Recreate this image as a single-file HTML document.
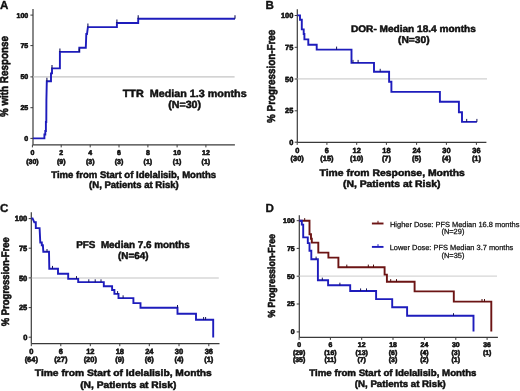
<!DOCTYPE html>
<html><head><meta charset="utf-8"><style>
html,body{margin:0;padding:0;background:#fff;width:520px;height:391px;overflow:hidden;}
body{position:relative;font-family:"Liberation Sans", sans-serif;}
</style></head><body>
<svg width="520" height="391" viewBox="0 0 520 391" style="position:absolute;left:0;top:0;will-change:transform;filter:blur(0.35px)">
<g text-rendering="geometricPrecision" font-family='"Liberation Sans", sans-serif'>
<text x="0.00" y="8.50" font-size="11.6" text-anchor="start" font-weight="bold" fill="#111" stroke="#111" stroke-width="0.35" stroke-linejoin="round" >A</text>
<line x1="33.00" y1="9.00" x2="33.00" y2="144.80" stroke="#3a3a3a" stroke-width="1.2"/>
<line x1="32.60" y1="144.80" x2="234.90" y2="144.80" stroke="#3a3a3a" stroke-width="1.2"/>
<line x1="33.00" y1="76.80" x2="234.60" y2="76.80" stroke="#c4c4c4" stroke-width="1.2"/>
<line x1="30.40" y1="15.10" x2="33.00" y2="15.10" stroke="#3a3a3a" stroke-width="1.0"/>
<text x="28.20" y="17.62" font-size="7.0" text-anchor="end" font-weight="bold" fill="#111" stroke="#111" stroke-width="0.6" stroke-linejoin="round" >100</text>
<line x1="30.40" y1="45.60" x2="33.00" y2="45.60" stroke="#3a3a3a" stroke-width="1.0"/>
<text x="28.20" y="48.12" font-size="7.0" text-anchor="end" font-weight="bold" fill="#111" stroke="#111" stroke-width="0.6" stroke-linejoin="round" >75</text>
<line x1="30.40" y1="76.90" x2="33.00" y2="76.90" stroke="#3a3a3a" stroke-width="1.0"/>
<text x="28.20" y="79.42" font-size="7.0" text-anchor="end" font-weight="bold" fill="#111" stroke="#111" stroke-width="0.6" stroke-linejoin="round" >50</text>
<line x1="30.40" y1="107.70" x2="33.00" y2="107.70" stroke="#3a3a3a" stroke-width="1.0"/>
<text x="28.20" y="110.22" font-size="7.0" text-anchor="end" font-weight="bold" fill="#111" stroke="#111" stroke-width="0.6" stroke-linejoin="round" >25</text>
<line x1="30.40" y1="138.40" x2="33.00" y2="138.40" stroke="#3a3a3a" stroke-width="1.0"/>
<text x="28.20" y="140.92" font-size="7.0" text-anchor="end" font-weight="bold" fill="#111" stroke="#111" stroke-width="0.6" stroke-linejoin="round" >0</text>
<line x1="32.40" y1="144.80" x2="32.40" y2="147.40" stroke="#3a3a3a" stroke-width="1.0"/>
<text x="32.40" y="155.30" font-size="7.0" text-anchor="middle" font-weight="bold" fill="#111" stroke="#111" stroke-width="0.6" stroke-linejoin="round" >0</text>
<text x="32.40" y="164.00" font-size="7.0" text-anchor="middle" font-weight="bold" fill="#111" stroke="#111" stroke-width="0.6" stroke-linejoin="round" >(30)</text>
<line x1="61.20" y1="144.80" x2="61.20" y2="147.40" stroke="#3a3a3a" stroke-width="1.0"/>
<text x="61.20" y="155.30" font-size="7.0" text-anchor="middle" font-weight="bold" fill="#111" stroke="#111" stroke-width="0.6" stroke-linejoin="round" >2</text>
<text x="61.20" y="164.00" font-size="7.0" text-anchor="middle" font-weight="bold" fill="#111" stroke="#111" stroke-width="0.6" stroke-linejoin="round" >(9)</text>
<line x1="90.20" y1="144.80" x2="90.20" y2="147.40" stroke="#3a3a3a" stroke-width="1.0"/>
<text x="90.20" y="155.30" font-size="7.0" text-anchor="middle" font-weight="bold" fill="#111" stroke="#111" stroke-width="0.6" stroke-linejoin="round" >4</text>
<text x="90.20" y="164.00" font-size="7.0" text-anchor="middle" font-weight="bold" fill="#111" stroke="#111" stroke-width="0.6" stroke-linejoin="round" >(3)</text>
<line x1="119.00" y1="144.80" x2="119.00" y2="147.40" stroke="#3a3a3a" stroke-width="1.0"/>
<text x="119.00" y="155.30" font-size="7.0" text-anchor="middle" font-weight="bold" fill="#111" stroke="#111" stroke-width="0.6" stroke-linejoin="round" >6</text>
<text x="119.00" y="164.00" font-size="7.0" text-anchor="middle" font-weight="bold" fill="#111" stroke="#111" stroke-width="0.6" stroke-linejoin="round" >(3)</text>
<line x1="147.90" y1="144.80" x2="147.90" y2="147.40" stroke="#3a3a3a" stroke-width="1.0"/>
<text x="147.90" y="155.30" font-size="7.0" text-anchor="middle" font-weight="bold" fill="#111" stroke="#111" stroke-width="0.6" stroke-linejoin="round" >8</text>
<text x="147.90" y="164.00" font-size="7.0" text-anchor="middle" font-weight="bold" fill="#111" stroke="#111" stroke-width="0.6" stroke-linejoin="round" >(1)</text>
<line x1="177.10" y1="144.80" x2="177.10" y2="147.40" stroke="#3a3a3a" stroke-width="1.0"/>
<text x="177.10" y="155.30" font-size="7.0" text-anchor="middle" font-weight="bold" fill="#111" stroke="#111" stroke-width="0.6" stroke-linejoin="round" >10</text>
<text x="177.10" y="164.00" font-size="7.0" text-anchor="middle" font-weight="bold" fill="#111" stroke="#111" stroke-width="0.6" stroke-linejoin="round" >(1)</text>
<line x1="205.90" y1="144.80" x2="205.90" y2="147.40" stroke="#3a3a3a" stroke-width="1.0"/>
<text x="205.90" y="155.30" font-size="7.0" text-anchor="middle" font-weight="bold" fill="#111" stroke="#111" stroke-width="0.6" stroke-linejoin="round" >12</text>
<text x="205.90" y="164.00" font-size="7.0" text-anchor="middle" font-weight="bold" fill="#111" stroke="#111" stroke-width="0.6" stroke-linejoin="round" >(1)</text>
<polyline points="33.00,138.40 44.40,138.40 44.40,134.50 45.30,134.50 45.30,131.00 45.90,131.00 45.90,122.00 46.30,122.00 46.40,100.00 46.80,81.20 51.00,81.20 51.00,73.40 52.00,73.40 52.00,68.40 59.90,68.40 59.90,51.90 79.30,51.90 79.30,47.80 85.80,47.80 86.30,34.00 87.00,34.00 87.90,27.10 116.90,27.10 116.90,23.00 138.20,23.00 138.20,18.70 235.00,18.70" fill="none" stroke="#1e1cbc" stroke-width="1.9" stroke-linejoin="miter" stroke-linecap="butt"/>
<line x1="46.90" y1="81.20" x2="46.90" y2="77.70" stroke="#14145a" stroke-width="1.1"/>
<line x1="52.00" y1="68.40" x2="52.00" y2="64.90" stroke="#14145a" stroke-width="1.1"/>
<line x1="59.90" y1="51.90" x2="59.90" y2="48.40" stroke="#14145a" stroke-width="1.1"/>
<line x1="79.30" y1="51.90" x2="79.30" y2="48.40" stroke="#14145a" stroke-width="1.1"/>
<line x1="87.90" y1="27.10" x2="87.90" y2="23.60" stroke="#14145a" stroke-width="1.1"/>
<line x1="116.90" y1="23.00" x2="116.90" y2="19.50" stroke="#14145a" stroke-width="1.1"/>
<line x1="138.20" y1="18.70" x2="138.20" y2="15.20" stroke="#14145a" stroke-width="1.1"/>
<line x1="235.00" y1="18.70" x2="235.00" y2="15.20" stroke="#14145a" stroke-width="1.1"/>
<text transform="translate(184.70,96.70) scale(1.03,1)" font-size="10.466" text-anchor="middle" font-weight="bold" fill="#111" stroke="#111" stroke-width="0.5" stroke-linejoin="round" >TTR  Median 1.3 months</text>
<text transform="translate(184.65,108.40) scale(1.03,1)" font-size="10.340" text-anchor="middle" font-weight="bold" fill="#111" stroke="#111" stroke-width="0.5" stroke-linejoin="round" >(N=30)</text>
<text x="133.70" y="177.50" font-size="9.55" text-anchor="middle" font-weight="bold" fill="#111" stroke="#111" stroke-width="0.5" stroke-linejoin="round" >Time from Start of Idelalisib, Months</text>
<text x="133.90" y="188.10" font-size="9.55" text-anchor="middle" font-weight="bold" fill="#111" stroke="#111" stroke-width="0.5" stroke-linejoin="round" >(N, Patients at Risk)</text>
<text transform="translate(8.30,76.60) scale(1.15,1) rotate(-90)" font-size="9.85" text-anchor="middle" font-weight="bold" fill="#111" stroke="#111" stroke-width="0.5" stroke-linejoin="round">% with Response</text>
<text x="265.60" y="8.60" font-size="11.6" text-anchor="start" font-weight="bold" fill="#111" stroke="#111" stroke-width="0.35" stroke-linejoin="round" >B</text>
<line x1="297.30" y1="9.20" x2="297.30" y2="142.30" stroke="#3a3a3a" stroke-width="1.2"/>
<line x1="297.30" y1="142.30" x2="486.40" y2="142.30" stroke="#3a3a3a" stroke-width="1.2"/>
<line x1="297.30" y1="78.80" x2="487.00" y2="78.80" stroke="#d0d0d0" stroke-width="1.2"/>
<line x1="294.70" y1="15.50" x2="297.30" y2="15.50" stroke="#3a3a3a" stroke-width="1.0"/>
<text x="293.30" y="18.16" font-size="7.4" text-anchor="end" font-weight="bold" fill="#111" stroke="#111" stroke-width="0.6" stroke-linejoin="round" >100</text>
<line x1="294.70" y1="47.30" x2="297.30" y2="47.30" stroke="#3a3a3a" stroke-width="1.0"/>
<text x="293.30" y="49.96" font-size="7.4" text-anchor="end" font-weight="bold" fill="#111" stroke="#111" stroke-width="0.6" stroke-linejoin="round" >75</text>
<line x1="294.70" y1="79.00" x2="297.30" y2="79.00" stroke="#3a3a3a" stroke-width="1.0"/>
<text x="293.30" y="81.66" font-size="7.4" text-anchor="end" font-weight="bold" fill="#111" stroke="#111" stroke-width="0.6" stroke-linejoin="round" >50</text>
<line x1="294.70" y1="110.80" x2="297.30" y2="110.80" stroke="#3a3a3a" stroke-width="1.0"/>
<text x="293.30" y="113.46" font-size="7.4" text-anchor="end" font-weight="bold" fill="#111" stroke="#111" stroke-width="0.6" stroke-linejoin="round" >25</text>
<line x1="294.70" y1="142.20" x2="297.30" y2="142.20" stroke="#3a3a3a" stroke-width="1.0"/>
<text x="293.30" y="144.86" font-size="7.4" text-anchor="end" font-weight="bold" fill="#111" stroke="#111" stroke-width="0.6" stroke-linejoin="round" >0</text>
<line x1="297.20" y1="142.30" x2="297.20" y2="144.90" stroke="#3a3a3a" stroke-width="1.0"/>
<text x="297.20" y="152.50" font-size="7.4" text-anchor="middle" font-weight="bold" fill="#111" stroke="#111" stroke-width="0.6" stroke-linejoin="round" >0</text>
<text x="297.20" y="161.20" font-size="7.4" text-anchor="middle" font-weight="bold" fill="#111" stroke="#111" stroke-width="0.6" stroke-linejoin="round" >(30)</text>
<line x1="326.90" y1="142.30" x2="326.90" y2="144.90" stroke="#3a3a3a" stroke-width="1.0"/>
<text x="326.90" y="152.50" font-size="7.4" text-anchor="middle" font-weight="bold" fill="#111" stroke="#111" stroke-width="0.6" stroke-linejoin="round" >6</text>
<text x="326.90" y="161.20" font-size="7.4" text-anchor="middle" font-weight="bold" fill="#111" stroke="#111" stroke-width="0.6" stroke-linejoin="round" >(15)</text>
<line x1="356.70" y1="142.30" x2="356.70" y2="144.90" stroke="#3a3a3a" stroke-width="1.0"/>
<text x="356.70" y="152.50" font-size="7.4" text-anchor="middle" font-weight="bold" fill="#111" stroke="#111" stroke-width="0.6" stroke-linejoin="round" >12</text>
<text x="356.70" y="161.20" font-size="7.4" text-anchor="middle" font-weight="bold" fill="#111" stroke="#111" stroke-width="0.6" stroke-linejoin="round" >(10)</text>
<line x1="386.40" y1="142.30" x2="386.40" y2="144.90" stroke="#3a3a3a" stroke-width="1.0"/>
<text x="386.40" y="152.50" font-size="7.4" text-anchor="middle" font-weight="bold" fill="#111" stroke="#111" stroke-width="0.6" stroke-linejoin="round" >18</text>
<text x="386.40" y="161.20" font-size="7.4" text-anchor="middle" font-weight="bold" fill="#111" stroke="#111" stroke-width="0.6" stroke-linejoin="round" >(7)</text>
<line x1="416.60" y1="142.30" x2="416.60" y2="144.90" stroke="#3a3a3a" stroke-width="1.0"/>
<text x="416.60" y="152.50" font-size="7.4" text-anchor="middle" font-weight="bold" fill="#111" stroke="#111" stroke-width="0.6" stroke-linejoin="round" >24</text>
<text x="416.60" y="161.20" font-size="7.4" text-anchor="middle" font-weight="bold" fill="#111" stroke="#111" stroke-width="0.6" stroke-linejoin="round" >(5)</text>
<line x1="446.40" y1="142.30" x2="446.40" y2="144.90" stroke="#3a3a3a" stroke-width="1.0"/>
<text x="446.40" y="152.50" font-size="7.4" text-anchor="middle" font-weight="bold" fill="#111" stroke="#111" stroke-width="0.6" stroke-linejoin="round" >30</text>
<text x="446.40" y="161.20" font-size="7.4" text-anchor="middle" font-weight="bold" fill="#111" stroke="#111" stroke-width="0.6" stroke-linejoin="round" >(4)</text>
<line x1="476.40" y1="142.30" x2="476.40" y2="144.90" stroke="#3a3a3a" stroke-width="1.0"/>
<text x="476.40" y="152.50" font-size="7.4" text-anchor="middle" font-weight="bold" fill="#111" stroke="#111" stroke-width="0.6" stroke-linejoin="round" >36</text>
<text x="476.40" y="161.20" font-size="7.4" text-anchor="middle" font-weight="bold" fill="#111" stroke="#111" stroke-width="0.6" stroke-linejoin="round" >(1)</text>
<polyline points="297.30,15.40 300.00,15.40 300.00,19.70 301.80,19.70 301.80,29.40 303.70,29.40 303.70,34.00 304.40,34.00 304.40,39.40 308.30,39.40 308.30,44.70 316.70,44.70 316.70,49.60 351.50,49.60 351.50,62.90 374.00,62.90 374.00,71.80 389.10,71.80 389.10,81.80 391.40,81.80 391.40,91.90 439.90,91.90 439.90,101.80 458.90,101.80 458.90,112.20 462.00,112.20 462.00,121.90 476.90,121.90" fill="none" stroke="#1e1cbc" stroke-width="1.9" stroke-linejoin="miter" stroke-linecap="butt"/>
<line x1="336.60" y1="49.60" x2="336.60" y2="46.60" stroke="#14145a" stroke-width="1.0"/>
<line x1="353.00" y1="62.90" x2="353.00" y2="59.90" stroke="#14145a" stroke-width="1.0"/>
<line x1="358.10" y1="62.90" x2="358.10" y2="59.90" stroke="#14145a" stroke-width="1.0"/>
<line x1="380.20" y1="71.80" x2="380.20" y2="68.80" stroke="#14145a" stroke-width="1.0"/>
<line x1="466.70" y1="121.90" x2="466.70" y2="118.90" stroke="#14145a" stroke-width="1.0"/>
<line x1="476.90" y1="121.90" x2="476.90" y2="118.90" stroke="#14145a" stroke-width="1.0"/>
<text transform="translate(413.40,31.80) scale(1.05,1)" font-size="9.600" text-anchor="middle" font-weight="bold" fill="#111" stroke="#111" stroke-width="0.5" stroke-linejoin="round" >DOR- Median 18.4 months</text>
<text transform="translate(413.75,43.10) scale(1.05,1)" font-size="9.762" text-anchor="middle" font-weight="bold" fill="#111" stroke="#111" stroke-width="0.5" stroke-linejoin="round" >(N=30)</text>
<text transform="translate(392.20,175.90) scale(1.09,1)" font-size="9.541" text-anchor="middle" font-weight="bold" fill="#111" stroke="#111" stroke-width="0.5" stroke-linejoin="round" >Time from Response, Months</text>
<text transform="translate(391.70,187.20) scale(1.09,1)" font-size="9.541" text-anchor="middle" font-weight="bold" fill="#111" stroke="#111" stroke-width="0.5" stroke-linejoin="round" >(N, Patients at Risk)</text>
<text transform="translate(274.70,76.30) scale(1.15,1) rotate(-90)" font-size="9.9" text-anchor="middle" font-weight="bold" fill="#111" stroke="#111" stroke-width="0.5" stroke-linejoin="round">% Progression-Free</text>
<text x="0.10" y="211.50" font-size="11.6" text-anchor="start" font-weight="bold" fill="#111" stroke="#111" stroke-width="0.35" stroke-linejoin="round" >C</text>
<line x1="31.30" y1="212.20" x2="31.30" y2="343.60" stroke="#3a3a3a" stroke-width="1.2"/>
<line x1="31.30" y1="343.60" x2="219.50" y2="343.60" stroke="#3a3a3a" stroke-width="1.2"/>
<line x1="31.30" y1="278.00" x2="218.80" y2="278.00" stroke="#c4c4c4" stroke-width="1.2"/>
<line x1="28.70" y1="218.60" x2="31.30" y2="218.60" stroke="#3a3a3a" stroke-width="1.0"/>
<text x="27.30" y="221.30" font-size="7.5" text-anchor="end" font-weight="bold" fill="#111" stroke="#111" stroke-width="0.6" stroke-linejoin="round" >100</text>
<line x1="28.70" y1="248.20" x2="31.30" y2="248.20" stroke="#3a3a3a" stroke-width="1.0"/>
<text x="27.30" y="250.90" font-size="7.5" text-anchor="end" font-weight="bold" fill="#111" stroke="#111" stroke-width="0.6" stroke-linejoin="round" >75</text>
<line x1="28.70" y1="277.90" x2="31.30" y2="277.90" stroke="#3a3a3a" stroke-width="1.0"/>
<text x="27.30" y="280.60" font-size="7.5" text-anchor="end" font-weight="bold" fill="#111" stroke="#111" stroke-width="0.6" stroke-linejoin="round" >50</text>
<line x1="28.70" y1="307.60" x2="31.30" y2="307.60" stroke="#3a3a3a" stroke-width="1.0"/>
<text x="27.30" y="310.30" font-size="7.5" text-anchor="end" font-weight="bold" fill="#111" stroke="#111" stroke-width="0.6" stroke-linejoin="round" >25</text>
<line x1="28.70" y1="337.20" x2="31.30" y2="337.20" stroke="#3a3a3a" stroke-width="1.0"/>
<text x="27.30" y="339.90" font-size="7.5" text-anchor="end" font-weight="bold" fill="#111" stroke="#111" stroke-width="0.6" stroke-linejoin="round" >0</text>
<line x1="31.30" y1="343.60" x2="31.30" y2="346.20" stroke="#3a3a3a" stroke-width="1.0"/>
<text x="31.30" y="353.50" font-size="7.5" text-anchor="middle" font-weight="bold" fill="#111" stroke="#111" stroke-width="0.6" stroke-linejoin="round" >0</text>
<text x="31.30" y="362.00" font-size="7.5" text-anchor="middle" font-weight="bold" fill="#111" stroke="#111" stroke-width="0.6" stroke-linejoin="round" >(64)</text>
<line x1="60.80" y1="343.60" x2="60.80" y2="346.20" stroke="#3a3a3a" stroke-width="1.0"/>
<text x="60.80" y="353.50" font-size="7.5" text-anchor="middle" font-weight="bold" fill="#111" stroke="#111" stroke-width="0.6" stroke-linejoin="round" >6</text>
<text x="60.80" y="362.00" font-size="7.5" text-anchor="middle" font-weight="bold" fill="#111" stroke="#111" stroke-width="0.6" stroke-linejoin="round" >(27)</text>
<line x1="90.30" y1="343.60" x2="90.30" y2="346.20" stroke="#3a3a3a" stroke-width="1.0"/>
<text x="90.30" y="353.50" font-size="7.5" text-anchor="middle" font-weight="bold" fill="#111" stroke="#111" stroke-width="0.6" stroke-linejoin="round" >12</text>
<text x="90.30" y="362.00" font-size="7.5" text-anchor="middle" font-weight="bold" fill="#111" stroke="#111" stroke-width="0.6" stroke-linejoin="round" >(20)</text>
<line x1="119.80" y1="343.60" x2="119.80" y2="346.20" stroke="#3a3a3a" stroke-width="1.0"/>
<text x="119.80" y="353.50" font-size="7.5" text-anchor="middle" font-weight="bold" fill="#111" stroke="#111" stroke-width="0.6" stroke-linejoin="round" >18</text>
<text x="119.80" y="362.00" font-size="7.5" text-anchor="middle" font-weight="bold" fill="#111" stroke="#111" stroke-width="0.6" stroke-linejoin="round" >(9)</text>
<line x1="149.30" y1="343.60" x2="149.30" y2="346.20" stroke="#3a3a3a" stroke-width="1.0"/>
<text x="149.30" y="353.50" font-size="7.5" text-anchor="middle" font-weight="bold" fill="#111" stroke="#111" stroke-width="0.6" stroke-linejoin="round" >24</text>
<text x="149.30" y="362.00" font-size="7.5" text-anchor="middle" font-weight="bold" fill="#111" stroke="#111" stroke-width="0.6" stroke-linejoin="round" >(6)</text>
<line x1="179.00" y1="343.60" x2="179.00" y2="346.20" stroke="#3a3a3a" stroke-width="1.0"/>
<text x="179.00" y="353.50" font-size="7.5" text-anchor="middle" font-weight="bold" fill="#111" stroke="#111" stroke-width="0.6" stroke-linejoin="round" >30</text>
<text x="179.00" y="362.00" font-size="7.5" text-anchor="middle" font-weight="bold" fill="#111" stroke="#111" stroke-width="0.6" stroke-linejoin="round" >(4)</text>
<line x1="208.80" y1="343.60" x2="208.80" y2="346.20" stroke="#3a3a3a" stroke-width="1.0"/>
<text x="208.80" y="353.50" font-size="7.5" text-anchor="middle" font-weight="bold" fill="#111" stroke="#111" stroke-width="0.6" stroke-linejoin="round" >36</text>
<text x="208.80" y="362.00" font-size="7.5" text-anchor="middle" font-weight="bold" fill="#111" stroke="#111" stroke-width="0.6" stroke-linejoin="round" >(1)</text>
<polyline points="31.30,218.40 32.60,218.40 34.30,222.30 35.80,222.30 35.80,228.10 39.60,228.10 40.30,242.50 41.80,242.50 41.80,245.30 42.90,245.30 43.30,251.80 49.00,251.80 49.30,268.70 58.00,268.70 58.00,273.80 68.20,273.80 68.20,278.90 78.20,278.90 78.20,282.10 103.80,282.10 103.80,286.20 112.10,286.20 112.10,290.00 114.40,290.00 114.40,293.90 118.50,293.90 118.50,298.10 133.40,298.10 133.40,303.10 140.50,303.10 140.50,307.80 177.50,307.80 177.50,313.70 196.00,313.70 196.00,319.80 213.20,319.80 213.20,337.60" fill="none" stroke="#1e1cbc" stroke-width="1.9" stroke-linejoin="miter" stroke-linecap="butt"/>
<line x1="47.00" y1="251.80" x2="47.00" y2="249.00" stroke="#14145a" stroke-width="1.0"/>
<line x1="52.50" y1="268.70" x2="52.50" y2="265.90" stroke="#14145a" stroke-width="1.0"/>
<line x1="76.50" y1="278.90" x2="76.50" y2="276.10" stroke="#14145a" stroke-width="1.0"/>
<line x1="88.80" y1="282.10" x2="88.80" y2="279.30" stroke="#14145a" stroke-width="1.0"/>
<line x1="95.20" y1="282.10" x2="95.20" y2="279.30" stroke="#14145a" stroke-width="1.0"/>
<line x1="101.00" y1="282.10" x2="101.00" y2="279.30" stroke="#14145a" stroke-width="1.0"/>
<line x1="117.60" y1="293.90" x2="117.60" y2="291.10" stroke="#14145a" stroke-width="1.0"/>
<line x1="123.10" y1="298.10" x2="123.10" y2="295.30" stroke="#14145a" stroke-width="1.0"/>
<line x1="177.50" y1="307.80" x2="177.50" y2="305.00" stroke="#14145a" stroke-width="1.0"/>
<line x1="203.60" y1="319.80" x2="203.60" y2="317.00" stroke="#14145a" stroke-width="1.0"/>
<line x1="205.60" y1="319.80" x2="205.60" y2="317.00" stroke="#14145a" stroke-width="1.0"/>
<text x="133.00" y="248.10" font-size="9.9" text-anchor="middle" font-weight="bold" fill="#111" stroke="#111" stroke-width="0.5" stroke-linejoin="round" >PFS  Median 7.6 months</text>
<text x="133.30" y="259.40" font-size="9.9" text-anchor="middle" font-weight="bold" fill="#111" stroke="#111" stroke-width="0.5" stroke-linejoin="round" >(N=64)</text>
<text transform="translate(123.30,375.60) scale(1.09,1)" font-size="9.413" text-anchor="middle" font-weight="bold" fill="#111" stroke="#111" stroke-width="0.5" stroke-linejoin="round" >Time from Start of Idelalisib, Months</text>
<text transform="translate(128.30,387.60) scale(1.09,1)" font-size="9.413" text-anchor="middle" font-weight="bold" fill="#111" stroke="#111" stroke-width="0.5" stroke-linejoin="round" >(N, Patients at Risk)</text>
<text transform="translate(9.30,281.80) scale(1.15,1) rotate(-90)" font-size="9.42" text-anchor="middle" font-weight="bold" fill="#111" stroke="#111" stroke-width="0.5" stroke-linejoin="round">% Progression-Free</text>
<text x="265.50" y="211.60" font-size="11.6" text-anchor="start" font-weight="bold" fill="#111" stroke="#111" stroke-width="0.35" stroke-linejoin="round" >D</text>
<line x1="299.30" y1="215.20" x2="299.30" y2="337.30" stroke="#3a3a3a" stroke-width="1.2"/>
<line x1="299.30" y1="337.30" x2="497.90" y2="337.30" stroke="#3a3a3a" stroke-width="1.2"/>
<line x1="299.30" y1="276.20" x2="497.00" y2="276.20" stroke="#d6d6d6" stroke-width="1.2"/>
<line x1="296.70" y1="220.70" x2="299.30" y2="220.70" stroke="#3a3a3a" stroke-width="1.0"/>
<text x="294.60" y="223.18" font-size="6.9" text-anchor="end" font-weight="bold" fill="#111" stroke="#111" stroke-width="0.6" stroke-linejoin="round" >100</text>
<line x1="296.70" y1="248.40" x2="299.30" y2="248.40" stroke="#3a3a3a" stroke-width="1.0"/>
<text x="294.60" y="250.88" font-size="6.9" text-anchor="end" font-weight="bold" fill="#111" stroke="#111" stroke-width="0.6" stroke-linejoin="round" >75</text>
<line x1="296.70" y1="276.20" x2="299.30" y2="276.20" stroke="#3a3a3a" stroke-width="1.0"/>
<text x="294.60" y="278.68" font-size="6.9" text-anchor="end" font-weight="bold" fill="#111" stroke="#111" stroke-width="0.6" stroke-linejoin="round" >50</text>
<line x1="296.70" y1="304.00" x2="299.30" y2="304.00" stroke="#3a3a3a" stroke-width="1.0"/>
<text x="294.60" y="306.48" font-size="6.9" text-anchor="end" font-weight="bold" fill="#111" stroke="#111" stroke-width="0.6" stroke-linejoin="round" >25</text>
<line x1="296.70" y1="331.90" x2="299.30" y2="331.90" stroke="#3a3a3a" stroke-width="1.0"/>
<text x="294.60" y="334.38" font-size="6.9" text-anchor="end" font-weight="bold" fill="#111" stroke="#111" stroke-width="0.6" stroke-linejoin="round" >0</text>
<line x1="299.10" y1="337.30" x2="299.10" y2="339.90" stroke="#3a3a3a" stroke-width="1.0"/>
<text x="299.10" y="346.90" font-size="6.9" text-anchor="middle" font-weight="bold" fill="#111" stroke="#111" stroke-width="0.6" stroke-linejoin="round" >0</text>
<text x="299.10" y="354.50" font-size="6.9" text-anchor="middle" font-weight="bold" fill="#111" stroke="#111" stroke-width="0.6" stroke-linejoin="round" >(29)</text>
<text x="299.10" y="362.40" font-size="6.9" text-anchor="middle" font-weight="bold" fill="#111" stroke="#111" stroke-width="0.6" stroke-linejoin="round" >(35)</text>
<line x1="330.40" y1="337.30" x2="330.40" y2="339.90" stroke="#3a3a3a" stroke-width="1.0"/>
<text x="330.40" y="346.90" font-size="6.9" text-anchor="middle" font-weight="bold" fill="#111" stroke="#111" stroke-width="0.6" stroke-linejoin="round" >6</text>
<text x="330.40" y="354.50" font-size="6.9" text-anchor="middle" font-weight="bold" fill="#111" stroke="#111" stroke-width="0.6" stroke-linejoin="round" >(16)</text>
<text x="330.40" y="362.40" font-size="6.9" text-anchor="middle" font-weight="bold" fill="#111" stroke="#111" stroke-width="0.6" stroke-linejoin="round" >(11)</text>
<line x1="361.70" y1="337.30" x2="361.70" y2="339.90" stroke="#3a3a3a" stroke-width="1.0"/>
<text x="361.70" y="346.90" font-size="6.9" text-anchor="middle" font-weight="bold" fill="#111" stroke="#111" stroke-width="0.6" stroke-linejoin="round" >12</text>
<text x="361.70" y="354.50" font-size="6.9" text-anchor="middle" font-weight="bold" fill="#111" stroke="#111" stroke-width="0.6" stroke-linejoin="round" >(13)</text>
<text x="361.70" y="362.40" font-size="6.9" text-anchor="middle" font-weight="bold" fill="#111" stroke="#111" stroke-width="0.6" stroke-linejoin="round" >(7)</text>
<line x1="393.00" y1="337.30" x2="393.00" y2="339.90" stroke="#3a3a3a" stroke-width="1.0"/>
<text x="393.00" y="346.90" font-size="6.9" text-anchor="middle" font-weight="bold" fill="#111" stroke="#111" stroke-width="0.6" stroke-linejoin="round" >18</text>
<text x="393.00" y="354.50" font-size="6.9" text-anchor="middle" font-weight="bold" fill="#111" stroke="#111" stroke-width="0.6" stroke-linejoin="round" >(6)</text>
<text x="393.00" y="362.40" font-size="6.9" text-anchor="middle" font-weight="bold" fill="#111" stroke="#111" stroke-width="0.6" stroke-linejoin="round" >(3)</text>
<line x1="424.40" y1="337.30" x2="424.40" y2="339.90" stroke="#3a3a3a" stroke-width="1.0"/>
<text x="424.40" y="346.90" font-size="6.9" text-anchor="middle" font-weight="bold" fill="#111" stroke="#111" stroke-width="0.6" stroke-linejoin="round" >24</text>
<text x="424.40" y="354.50" font-size="6.9" text-anchor="middle" font-weight="bold" fill="#111" stroke="#111" stroke-width="0.6" stroke-linejoin="round" >(4)</text>
<text x="424.40" y="362.40" font-size="6.9" text-anchor="middle" font-weight="bold" fill="#111" stroke="#111" stroke-width="0.6" stroke-linejoin="round" >(2)</text>
<line x1="455.80" y1="337.30" x2="455.80" y2="339.90" stroke="#3a3a3a" stroke-width="1.0"/>
<text x="455.80" y="346.90" font-size="6.9" text-anchor="middle" font-weight="bold" fill="#111" stroke="#111" stroke-width="0.6" stroke-linejoin="round" >30</text>
<text x="455.80" y="354.50" font-size="6.9" text-anchor="middle" font-weight="bold" fill="#111" stroke="#111" stroke-width="0.6" stroke-linejoin="round" >(3)</text>
<text x="455.80" y="362.40" font-size="6.9" text-anchor="middle" font-weight="bold" fill="#111" stroke="#111" stroke-width="0.6" stroke-linejoin="round" >(1)</text>
<line x1="487.10" y1="337.30" x2="487.10" y2="339.90" stroke="#3a3a3a" stroke-width="1.0"/>
<text x="487.10" y="346.90" font-size="6.9" text-anchor="middle" font-weight="bold" fill="#111" stroke="#111" stroke-width="0.6" stroke-linejoin="round" >36</text>
<text x="487.10" y="354.50" font-size="6.9" text-anchor="middle" font-weight="bold" fill="#111" stroke="#111" stroke-width="0.6" stroke-linejoin="round" >(1)</text>
<polyline points="299.30,220.70 309.50,220.70 309.50,234.20 311.00,234.20 311.00,238.70 311.80,238.70 311.80,242.60 318.30,242.60 318.30,252.60 328.40,252.60 328.40,257.60 338.40,257.60 338.40,267.20 384.60,267.20 384.60,274.60 386.90,274.60 386.90,281.70 414.60,281.70 414.60,291.40 453.80,291.40 453.80,301.60 491.30,301.60 491.30,331.60" fill="none" stroke="#6c1414" stroke-width="1.9" stroke-linejoin="miter" stroke-linecap="butt"/>
<line x1="304.70" y1="220.70" x2="304.70" y2="218.10" stroke="#4a0c0c" stroke-width="1.0"/>
<line x1="346.80" y1="267.20" x2="346.80" y2="264.60" stroke="#4a0c0c" stroke-width="1.0"/>
<line x1="368.30" y1="267.20" x2="368.30" y2="264.60" stroke="#4a0c0c" stroke-width="1.0"/>
<line x1="373.50" y1="267.20" x2="373.50" y2="264.60" stroke="#4a0c0c" stroke-width="1.0"/>
<line x1="390.70" y1="281.70" x2="390.70" y2="279.10" stroke="#4a0c0c" stroke-width="1.0"/>
<line x1="396.50" y1="281.70" x2="396.50" y2="279.10" stroke="#4a0c0c" stroke-width="1.0"/>
<line x1="482.00" y1="301.60" x2="482.00" y2="299.00" stroke="#4a0c0c" stroke-width="1.0"/>
<line x1="484.50" y1="301.60" x2="484.50" y2="299.00" stroke="#4a0c0c" stroke-width="1.0"/>
<polyline points="299.30,220.70 301.80,220.70 301.80,224.60 303.20,224.60 303.20,237.40 307.80,237.40 307.80,243.10 309.50,243.10 309.50,250.80 311.30,250.80 311.30,259.20 317.90,259.20 317.90,280.20 328.10,280.20 328.10,285.30 350.20,285.30 350.20,291.00 376.10,291.00 376.10,299.10 392.20,299.10 392.20,307.30 407.10,307.30 407.10,315.80 473.50,315.80 473.50,331.60" fill="none" stroke="#1e1cbc" stroke-width="1.9" stroke-linejoin="miter" stroke-linecap="butt"/>
<line x1="316.10" y1="259.20" x2="316.10" y2="256.60" stroke="#14145a" stroke-width="1.0"/>
<line x1="322.30" y1="280.20" x2="322.30" y2="277.60" stroke="#14145a" stroke-width="1.0"/>
<line x1="339.90" y1="285.30" x2="339.90" y2="282.70" stroke="#14145a" stroke-width="1.0"/>
<line x1="360.60" y1="291.00" x2="360.60" y2="288.40" stroke="#14145a" stroke-width="1.0"/>
<line x1="366.50" y1="291.00" x2="366.50" y2="288.40" stroke="#14145a" stroke-width="1.0"/>
<line x1="453.50" y1="315.80" x2="453.50" y2="313.20" stroke="#14145a" stroke-width="1.0"/>
<line x1="371.90" y1="223.50" x2="383.50" y2="223.50" stroke="#6c1414" stroke-width="1.9"/>
<line x1="378.00" y1="223.50" x2="378.00" y2="220.80" stroke="#6c1414" stroke-width="1.0"/>
<line x1="371.90" y1="246.90" x2="383.50" y2="246.90" stroke="#1e1cbc" stroke-width="1.9"/>
<line x1="378.00" y1="246.90" x2="378.00" y2="244.20" stroke="#1e1cbc" stroke-width="1.0"/>
<text x="454.70" y="226.60" font-size="7.44" text-anchor="middle" font-weight="normal" fill="#111" stroke="#111" stroke-width="0.25" stroke-linejoin="round" >Higher Dose: PFS Median 16.8 months</text>
<text x="452.90" y="234.40" font-size="7.44" text-anchor="middle" font-weight="normal" fill="#111" stroke="#111" stroke-width="0.25" stroke-linejoin="round" >(N=29)</text>
<text x="451.50" y="249.70" font-size="7.44" text-anchor="middle" font-weight="normal" fill="#111" stroke="#111" stroke-width="0.25" stroke-linejoin="round" >Lower Dose: PFS Median 3.7 months</text>
<text x="453.00" y="257.70" font-size="7.44" text-anchor="middle" font-weight="normal" fill="#111" stroke="#111" stroke-width="0.25" stroke-linejoin="round" >(N=35)</text>
<text transform="translate(392.90,375.50) scale(1.03,1)" font-size="9.427" text-anchor="middle" font-weight="bold" fill="#111" stroke="#111" stroke-width="0.5" stroke-linejoin="round" >Time from Start of Idelalisib, Months</text>
<text transform="translate(400.30,387.40) scale(1.03,1)" font-size="9.427" text-anchor="middle" font-weight="bold" fill="#111" stroke="#111" stroke-width="0.5" stroke-linejoin="round" >(N, Patients at Risk)</text>
<text transform="translate(275.40,275.90) scale(1.15,1) rotate(-90)" font-size="8.89" text-anchor="middle" font-weight="bold" fill="#111" stroke="#111" stroke-width="0.5" stroke-linejoin="round">% Progression-Free</text>
</g></svg>
</body></html>
